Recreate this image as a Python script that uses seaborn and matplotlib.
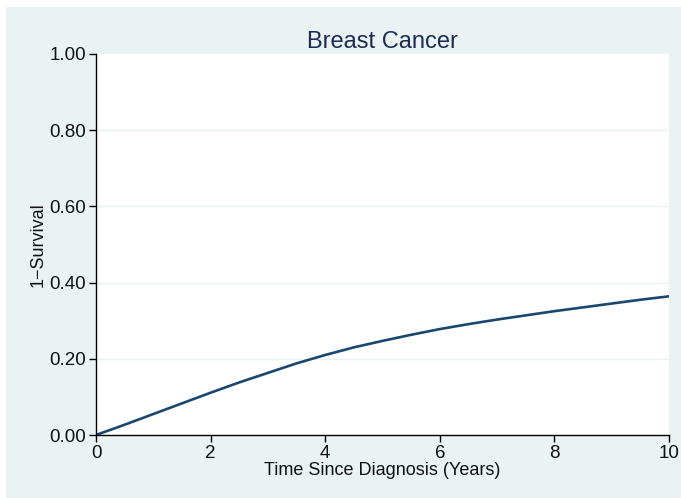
import numpy as np
import pandas as pd
import matplotlib
matplotlib.use("Agg")
import matplotlib.pyplot as plt
import seaborn as sns
from matplotlib.patches import Rectangle

# values
years = [0, 0.5, 1, 1.5, 2, 2.5, 3, 3.5, 4, 4.5, 5, 5.5, 6, 6.5, 7, 7.5, 8, 8.5, 9, 9.5, 10]
one_minus_surv = [0.0, 0.027, 0.055, 0.083, 0.111, 0.138, 0.163, 0.188, 0.210, 0.230, 0.247,
                  0.263, 0.278, 0.291, 0.303, 0.314, 0.325, 0.335, 0.345, 0.355, 0.364]
yticks = [0, 0.2, 0.4, 0.6, 0.8, 1.0]
xticks = [0, 2, 4, 6, 8, 10]

df = pd.DataFrame({"t": years, "f": one_minus_surv})

sns.set_theme(style="white")
plt.rcParams['font.family'] = ['Liberation Sans', 'DejaVu Sans']

bg = '#EAF2F3'
W, H = 681, 498
fig = plt.figure(figsize=(W / 100, H / 100), dpi=100)
fig.patch.set_facecolor('white')
fig.patches.append(Rectangle((6 / W, -0.01), 1.02 - 6 / W, 1.01 - 7 / H, transform=fig.transFigure,
                             facecolor=bg, edgecolor='none', zorder=-1))

ax = fig.add_axes([96 / W, (H - 435) / H, (669 - 96) / W, (435 - 54) / H])
ax.set_facecolor('white')
sns.lineplot(data=df, x='t', y='f', ax=ax, color='#1A476F', linewidth=1.9)

ax.set_xlim(0, 10)
ax.set_ylim(0, 1)
ax.set_xticks(xticks)
ax.set_xticklabels([str(x) for x in xticks])
ax.set_yticks(yticks)
ax.set_yticklabels([f"{y:.2f}" for y in yticks])
for y in yticks[1:-1]:
    ax.axhline(y, color=bg, linewidth=1, zorder=0)

for s in ['top', 'right']:
    ax.spines[s].set_visible(False)
for s in ['left', 'bottom']:
    ax.spines[s].set_color('black')
    ax.spines[s].set_linewidth(1)
ax.tick_params(axis='both', direction='out', length=5, width=1, color='black',
               labelsize=13.5, labelcolor='#111111', bottom=True, left=True, pad=2)

ax.set_xlabel('Time Since Diagnosis (Years)', fontsize=13, labelpad=0, color='#111111')
ax.set_ylabel('1\u2212Survival', fontsize=13, labelpad=2, color='#111111')
ax.set_title('Breast Cancer', fontsize=17, color='#1C2C54', pad=4)

fig.savefig('out.png', dpi=100, facecolor=fig.get_facecolor())
